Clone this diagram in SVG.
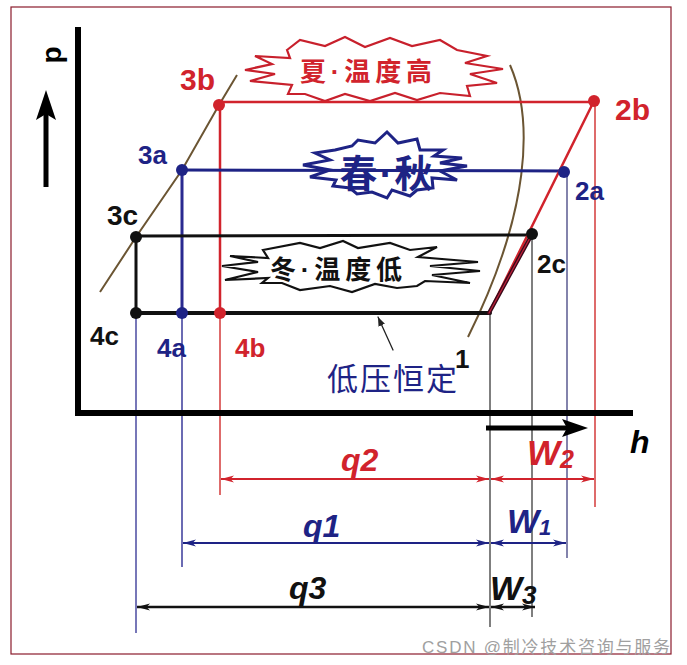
<svg xmlns="http://www.w3.org/2000/svg" width="687" height="665" viewBox="0 0 687 665">
<style>
.lbl{font-family:"Liberation Sans",Arial,sans-serif;font-weight:bold}
.it{font-family:"Liberation Sans",Arial,sans-serif;font-weight:bold;font-style:italic}
.cjk{font-family:"Liberation Sans","Noto Sans CJK SC",sans-serif}
.red{fill:#d1232c}
.blue{fill:#1e2385}
.blk{fill:#111}
.dot{stroke:none}
.burst{fill:#fff;stroke-linejoin:miter}
</style>
<defs>
<marker id="ar" markerUnits="userSpaceOnUse" markerWidth="14" markerHeight="8" refX="13" refY="4" orient="auto-start-reverse"><path d="M0,0.5 L13,4 L0,7.5 L3.5,4 Z" fill="#d1232c"/></marker>
<marker id="ab" markerUnits="userSpaceOnUse" markerWidth="14" markerHeight="8" refX="13" refY="4" orient="auto-start-reverse"><path d="M0,0.5 L13,4 L0,7.5 L3.5,4 Z" fill="#1e2385"/></marker>
<marker id="ak" markerUnits="userSpaceOnUse" markerWidth="14" markerHeight="8" refX="13" refY="4" orient="auto-start-reverse"><path d="M0,0.5 L13,4 L0,7.5 L3.5,4 Z" fill="#111"/></marker>
<marker id="ap" markerUnits="userSpaceOnUse" markerWidth="10" markerHeight="8" refX="9" refY="4" orient="auto"><path d="M0,0.5 L9,4 L0,7.5 Z" fill="#222"/></marker>
</defs>
<rect width="687" height="665" fill="#fff"/>
<rect x="11" y="7" width="660" height="647" fill="none" stroke="#8a1c2c" stroke-width="1.2"/>

<!-- extension lines -->
<g id="extension-lines" fill="none" stroke-width="1.5">
<line x1="136" y1="313" x2="136" y2="633" stroke="#4a4aa0"/>
<line x1="182" y1="313" x2="182" y2="567" stroke="#3a3a9a"/>
<line x1="220" y1="313" x2="220" y2="495" stroke="#d33a3a"/>
<line x1="490" y1="313" x2="490" y2="627" stroke="#555"/>
<line x1="532" y1="236" x2="532" y2="617" stroke="#555"/>
<line x1="567" y1="175" x2="567" y2="558" stroke="#5a5a90"/>
<line x1="595" y1="101" x2="595" y2="507" stroke="#d33a3a"/>
</g>

<!-- axes -->
<g id="axes">
<line x1="78" y1="27" x2="78" y2="416" stroke="#000" stroke-width="6"/>
<line x1="75" y1="413" x2="633" y2="413" stroke="#000" stroke-width="6"/>
<line x1="46" y1="187" x2="46" y2="110" stroke="#000" stroke-width="5"/>
<path d="M46,90 L56,120 L46,114 L36,120 Z" fill="#000"/>
<text class="lbl" x="0" y="0" font-size="28" transform="translate(61,55) rotate(-90)" text-anchor="middle" fill="#000">p</text>
<line x1="486" y1="428" x2="568" y2="428" stroke="#000" stroke-width="5"/>
<path d="M588,428 L562,419 L567,428 L562,437 Z" fill="#000"/>
<text class="it" x="630" y="453" font-size="32" fill="#000">h</text>
</g>

<!-- saturation curves -->
<g id="saturation-curve" fill="none" stroke="#6b5533" stroke-width="2">
<path d="M100,292 L136,237 L182,170 L219,105 L237,75"/>
<path d="M510,65 C534,120 530,212 468,337"/>
</g>

<!-- bursts -->
<g id="burst-summer">
<path class="burst" stroke="#c8202c" stroke-width="2.2" d="M287,50 L300,40 L325,46 L345,37 L365,47 L390,38 L412,46 L440,40 L457,50 L487,56 L465,63 L503,69 L470,74 L497,83 L467,86 L470,96 L440,93 L417,100 L395,93 L370,101 L345,94 L325,101 L305,94 L288,94 L292,85 L250,81 L275,74 L245,70 L272,64 L255,56 L290,58 Z"/>
<text class="cjk red" x="366" y="81" font-size="26" font-weight="bold" text-anchor="middle" textLength="132" lengthAdjust="spacing">夏·温度高</text>
</g>
<g id="burst-spring-autumn">
<path class="burst" stroke="#1e2385" stroke-width="3" d="M335,150 L352,146 L358,140 L375,143 L387,132 L398,143 L417,139 L420,150 L443,150 L434,156 L462,158 L440,163 L467,166 L440,171 L457,180 L432,178 L433,188 L417,190 L410,196 L392,190 L387,198 L372,192 L357,194 L350,188 L333,186 L336,180 L310,177 L330,170 L303,165 L330,160 L315,153 Z"/>
<text class="cjk blue" x="386" y="187" font-size="38" font-weight="bold" text-anchor="middle" textLength="93" lengthAdjust="spacing">春·秋</text>
</g>
<g id="burst-winter">
<path class="burst" stroke="#111" stroke-width="2.2" d="M263,250 L300,243 L320,248 L343,241 L358,248 L390,243 L410,250 L437,247 L418,257 L478,262 L430,266 L480,271 L432,275 L470,283 L425,281 L417,286 L397,288 L375,284 L352,292 L330,286 L300,290 L282,283 L262,283 L268,278 L225,280 L258,272 L222,266 L258,262 L230,256 L268,258 Z"/>
<text class="cjk blk" x="336" y="279" font-size="26" font-weight="bold" text-anchor="middle" textLength="132" lengthAdjust="spacing">冬·温度低</text>
</g>

<!-- cycle connectors -->
<g id="connectors" fill="none" stroke-linecap="round">
<line x1="219" y1="102" x2="594" y2="102" stroke="#d1232c" stroke-width="2.5"/>
<line x1="220" y1="104" x2="220" y2="313" stroke="#d1232c" stroke-width="2.5"/>
<line x1="182" y1="170" x2="564" y2="171" stroke="#1e2385" stroke-width="3"/>
<line x1="182" y1="170" x2="182" y2="313" stroke="#2a2a90" stroke-width="3"/>
<line x1="136" y1="236" x2="532" y2="235" stroke="#111" stroke-width="3"/>
<line x1="136" y1="237" x2="136" y2="313" stroke="#111" stroke-width="3"/>
<line x1="136" y1="313" x2="490" y2="313" stroke="#111" stroke-width="4"/>
<line x1="489" y1="313" x2="594" y2="101" stroke="#d1232c" stroke-width="2.5"/>
<line x1="489" y1="313" x2="531" y2="236" stroke="#3a0a1a" stroke-width="4"/>
<line x1="489" y1="313" x2="531" y2="236" stroke="#c0203a" stroke-width="1.2"/>
<line x1="393" y1="350" x2="378" y2="317" stroke="#222" stroke-width="1.3" marker-end="url(#ap)"/>
</g>

<!-- state points -->
<g id="state-3b"><circle class="dot" cx="219" cy="105" r="6" fill="#d1232c"/><text class="lbl red" x="180" y="90" font-size="30">3b</text></g>
<g id="state-2b"><circle class="dot" cx="594" cy="101" r="6" fill="#d1232c"/><text class="lbl red" x="615" y="120" font-size="30">2b</text></g>
<g id="state-4b"><circle class="dot" cx="220" cy="313" r="6" fill="#d1232c"/><text class="lbl red" x="235" y="357" font-size="26">4b</text></g>
<g id="state-3a"><circle class="dot" cx="182" cy="170" r="6" fill="#1e2385"/><text class="lbl blue" x="138" y="164" font-size="26">3a</text></g>
<g id="state-2a"><circle class="dot" cx="564" cy="172" r="6" fill="#1e2385"/><text class="lbl blue" x="575" y="200" font-size="26">2a</text></g>
<g id="state-4a"><circle class="dot" cx="182" cy="313" r="6" fill="#1e2385"/><text class="lbl blue" x="157" y="357" font-size="26">4a</text></g>
<g id="state-3c"><circle class="dot" cx="136" cy="237" r="6" fill="#111"/><text class="lbl blk" x="107" y="225" font-size="28">3c</text></g>
<g id="state-2c"><circle class="dot" cx="532" cy="234" r="6" fill="#111"/><text class="lbl blk" x="537" y="273" font-size="26">2c</text></g>
<g id="state-4c"><circle class="dot" cx="136" cy="313" r="6" fill="#111"/><text class="lbl blk" x="90" y="345" font-size="26">4c</text></g>
<g id="state-1"><text class="lbl blk" x="455" y="368" font-size="26" font-weight="normal">1</text></g>
<g id="note-low-pressure"><text class="cjk blue" x="327" y="390" font-size="31" textLength="130" lengthAdjust="spacing">低压恒定</text></g>

<!-- dimension arrows -->
<g id="dimensions" fill="none" stroke-width="2">
<line x1="221" y1="479" x2="489" y2="479" stroke="#d1232c" marker-start="url(#ar)" marker-end="url(#ar)"/>
<line x1="491" y1="479" x2="594" y2="479" stroke="#d1232c" marker-start="url(#ar)" marker-end="url(#ar)"/>
<line x1="183" y1="543" x2="489" y2="543" stroke="#1e2385" marker-start="url(#ab)" marker-end="url(#ab)"/>
<line x1="491" y1="543" x2="566" y2="543" stroke="#1e2385" marker-start="url(#ab)" marker-end="url(#ab)"/>
<line x1="137" y1="607" x2="489" y2="607" stroke="#111" stroke-width="2.5" marker-start="url(#ak)" marker-end="url(#ak)"/>
<line x1="491" y1="607" x2="535" y2="607" stroke="#111" stroke-width="2.5" marker-start="url(#ak)" marker-end="url(#ak)"/>
</g>
<g id="dimension-labels">
<text class="it red" x="341" y="471" font-size="32">q2</text>
<text class="it red" x="527" y="465" font-size="35">W<tspan font-size="25" dy="3">2</tspan></text>
<text class="it blue" x="303" y="537" font-size="32">q1</text>
<text class="it blue" x="507" y="533" font-size="34">W<tspan font-size="22" dy="2">1</tspan></text>
<text class="it blk" x="289" y="599" font-size="32">q3</text>
<text class="it blk" x="490" y="600" font-size="34">W<tspan font-size="26" dy="4">3</tspan></text>
</g>

<text class="cjk" x="422" y="653" font-size="17" fill="#a0a0a0" textLength="248" lengthAdjust="spacing">CSDN @制冷技术咨询与服务</text>
</svg>
